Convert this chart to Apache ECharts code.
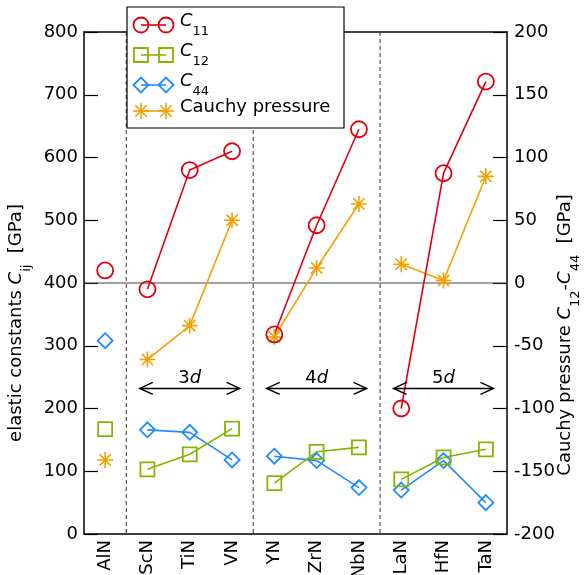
<!DOCTYPE html>
<html>
<head>
<meta charset="utf-8">
<script src="https://cdn.jsdelivr.net/npm/echarts@6/dist/echarts.min.js"></script>
<style>
html,body{margin:0;padding:0;background:#fff;}
#c{width:585px;height:575px;}
</style>
</head>
<body>
<div id="c"></div>
<script>
// ---- data ----
var categories = ['AlN', 'ScN', 'TiN', 'VN', 'YN', 'ZrN', 'NbN', 'LaN', 'HfN', 'TaN'];
var C11 = [420, 390, 580, 610, 318, 492, 645, 200, 575, 721];
var C12 = [167, 103, 127, 168, 81, 131, 138, 87, 122, 135];
var C44 = [308, 166, 162, 118, 124, 117, 74, 70, 117, 50];
var cauchy = [-141, -61, -34, 50, -43, 12, 63, 15, 2, 85];
var groups = [[0, 0], [1, 3], [4, 6], [7, 9]];   // index ranges joined by lines
var groupLabels = ['3', '4', '5'];
var groupCenters = [2, 5, 8];
var leftTicks = [0, 800, 100];
var rightTicks = [-200, 200, 50];

var FONT = 'DejaVu Sans';
var RED = '#e00012', GREEN = '#86b400', BLUE = '#1e8cff', ORANGE = '#f5a000';
var ASTER = 'path://M0,45L100,45L100,55L0,55Z M45,0L55,0L55,100L45,100Z M11.1,18.2L18.2,11.1L88.9,81.8L81.8,88.9Z M81.8,11.1L88.9,18.2L18.2,88.9L11.1,81.8Z';

function pick(arr, g) {
  return arr.map(function (v, i) { return (i >= g[0] && i <= g[1]) ? v : null; });
}

var series = [];
function addSeries(name, arr, yIdx, color, symbol, size) {
  groups.forEach(function (g) {
    series.push({
      name: name, type: 'line', xAxisIndex: 0, yAxisIndex: yIdx,
      data: pick(arr, g), connectNulls: false,
      symbol: symbol, symbolSize: size, showSymbol: true,
      lineStyle: {color: color, width: 1.6},
      itemStyle: symbol === ASTER ? {color: color} : {color: 'rgba(0,0,0,0)', borderColor: color, borderWidth: 1.8},
      emphasis: {disabled: true}, silent: true, z: 3
    });
  });
}
addSeries('C44', C44, 0, BLUE, 'diamond', 15);
addSeries('C12', C12, 0, GREEN, 'rect', 14);
addSeries('Cauchy pressure', cauchy, 1, ORANGE, ASTER, 16);
addSeries('C11', C11, 0, RED, 'circle', 16);

var chart = echarts.init(document.getElementById('c'), null, {renderer: 'canvas'});
var option = {
  animation: false,
  backgroundColor: '#fff',
  grid: {left: 84, right: 78, top: 32, bottom: 41, containLabel: false, outerBoundsMode: 'none'},
  xAxis: [
    {type: 'category', data: categories, position: 'bottom',
     axisLine: {onZero: false, lineStyle: {color: '#000', width: 1.5}},
     axisTick: {inside: true, length: 14, alignWithLabel: true, lineStyle: {color: '#777', width: 1.2}},
     axisLabel: {rotate: 90, margin: 6, color: '#000', fontSize: 18, fontFamily: FONT},
     splitLine: {show: false}},
    {type: 'category', data: categories, position: 'top',
     axisLine: {onZero: false, lineStyle: {color: '#000', width: 1.5}},
     axisTick: {inside: true, length: 13, alignWithLabel: true, lineStyle: {color: '#777', width: 1.2}},
     axisLabel: {show: false}, splitLine: {show: false}},
    {type: 'value', min: -0.5, max: 9.5, show: false, axisLine: {onZero: false}}
  ],
  yAxis: [
    {type: 'value', position: 'left', min: leftTicks[0], max: leftTicks[1], interval: leftTicks[2],
     axisLine: {show: true, onZero: false, lineStyle: {color: '#000', width: 1.5}},
     axisTick: {show: true, inside: true, length: 14, lineStyle: {color: '#000', width: 1.2}},
     axisLabel: {margin: 6, color: '#000', fontSize: 18, fontFamily: FONT},
     splitLine: {show: false}},
    {type: 'value', position: 'right', min: rightTicks[0], max: rightTicks[1], interval: rightTicks[2],
     axisLine: {show: true, onZero: false, lineStyle: {color: '#000', width: 1.5}},
     axisTick: {show: true, inside: true, length: 14, lineStyle: {color: '#000', width: 1.2}},
     axisLabel: {margin: 7, color: '#000', fontSize: 18, fontFamily: FONT},
     splitLine: {show: false}}
  ],
  series: series
};
chart.setOption(option);

function px(x) { return chart.convertToPixel({xAxisIndex: 2}, x); }
function pyL(y) { return chart.convertToPixel({yAxisIndex: 0}, y); }
function pyR(y) { return chart.convertToPixel({yAxisIndex: 1}, y); }

var g = [];
var yTop = pyL(800), yBot = pyL(0), xL = px(-0.5), xR = px(9.5);
// separators between the nitride groups
[0.5, 3.5, 6.5].forEach(function (v) {
  g.push({type: 'line', shape: {x1: px(v), y1: yTop, x2: px(v), y2: yBot}, silent: true, z: 1,
          style: {stroke: '#555', lineWidth: 1.2, lineDash: [4, 3]}});
});
// zero Cauchy pressure
g.push({type: 'line', shape: {x1: xL, y1: pyR(0), x2: xR, y2: pyR(0)}, silent: true, z: 1,
        style: {stroke: '#444', lineWidth: 1.2}});
// group arrows
var arrowY = pyL(232), labY = pyL(248);
groupCenters.forEach(function (c, k) {
  var a = px(c - 1.18), b = px(c + 1.18);
  g.push({type: 'line', shape: {x1: a, y1: arrowY, x2: b, y2: arrowY}, silent: true, z: 5, style: {stroke: '#000', lineWidth: 1.5}});
  g.push({type: 'polyline', shape: {points: [[a + 13, arrowY - 6], [a, arrowY], [a + 13, arrowY + 6]]}, silent: true, z: 5, style: {stroke: '#000', lineWidth: 1.5, fill: null}});
  g.push({type: 'polyline', shape: {points: [[b - 13, arrowY - 6], [b, arrowY], [b - 13, arrowY + 6]]}, silent: true, z: 5, style: {stroke: '#000', lineWidth: 1.5, fill: null}});
  g.push({type: 'text', x: px(c), y: labY, silent: true, z: 5,
          style: {text: '{n|' + groupLabels[k] + '}{i|d}', align: 'center', verticalAlign: 'middle',
                  rich: {n: {fontSize: 18, fontFamily: FONT, fill: '#000'}, i: {fontSize: 18, fontFamily: FONT, fontStyle: 'italic', fill: '#000'}}}});
});

// legend (drawn box)
var LX = 127, LY = 7, LW = 217, LH = 121;
g.push({type: 'rect', shape: {x: LX, y: LY, width: LW, height: LH}, z: 10, silent: true,
        style: {fill: '#fff', stroke: '#000', lineWidth: 1.2}});
var rows = [
  {y: 25, color: RED, kind: 'circle', label: '{c|C}{s|11}'},
  {y: 55, color: GREEN, kind: 'rect', label: '{c|C}{s|12}'},
  {y: 85, color: BLUE, kind: 'diamond', label: '{c|C}{s|44}'},
  {y: 111, color: ORANGE, kind: 'aster', label: '{n|Cauchy pressure}'}
];
var richT = {
  c: {fontSize: 18, fontFamily: FONT, fontStyle: 'italic', fill: '#000', lineHeight: 26, verticalAlign: 'top'},
  n: {fontSize: 18, fontFamily: FONT, fill: '#000', lineHeight: 26, verticalAlign: 'top'},
  s: {fontSize: 13, fontFamily: FONT, fill: '#000', lineHeight: 13, verticalAlign: 'bottom'}
};
var m1 = 141, m2 = 166;
rows.forEach(function (r) {
  g.push({type: 'line', shape: {x1: m1, y1: r.y, x2: m2, y2: r.y}, z: 11, silent: true, style: {stroke: r.color, lineWidth: 1.6}});
  [m1, m2].forEach(function (mx) {
    if (r.kind === 'circle') {
      g.push({type: 'circle', shape: {cx: mx, cy: r.y, r: 7.5}, z: 12, silent: true, style: {fill: null, stroke: r.color, lineWidth: 1.8}});
    } else if (r.kind === 'rect') {
      g.push({type: 'rect', shape: {x: mx - 7, y: r.y - 7, width: 14, height: 14}, z: 12, silent: true, style: {fill: null, stroke: r.color, lineWidth: 1.8}});
    } else if (r.kind === 'diamond') {
      g.push({type: 'polygon', shape: {points: [[mx - 7.5, r.y], [mx, r.y - 7.5], [mx + 7.5, r.y], [mx, r.y + 7.5]]}, z: 12, silent: true, style: {fill: null, stroke: r.color, lineWidth: 1.8}});
    } else {
      var d = 8, e = 5.7;
      [[-d, 0, d, 0], [0, -d, 0, d], [-e, -e, e, e], [-e, e, e, -e]].forEach(function (s) {
        g.push({type: 'line', shape: {x1: mx + s[0], y1: r.y + s[1], x2: mx + s[2], y2: r.y + s[3]}, z: 12, silent: true, style: {stroke: r.color, lineWidth: 1.6}});
      });
    }
  });
  g.push({type: 'text', x: 180, y: r.y, z: 12, silent: true,
          style: {text: r.label, align: 'left', verticalAlign: 'middle', rich: richT}});
});

// axis titles
g.push({type: 'text', x: 20, y: 323, rotation: Math.PI / 2, silent: true, z: 5,
        style: {text: '{n|elastic constants }{c|C}{s|ij}{n|  [GPa]}', align: 'center', verticalAlign: 'middle', rich: richT}});
g.push({type: 'text', x: 569, y: 335, rotation: Math.PI / 2, silent: true, z: 5,
        style: {text: '{n|Cauchy pressure }{c|C}{s|12}{n|-}{c|C}{s|44}{n|  [GPa]}', align: 'center', verticalAlign: 'middle', rich: richT}});

chart.setOption({graphic: g});
</script>
</body>
</html>
